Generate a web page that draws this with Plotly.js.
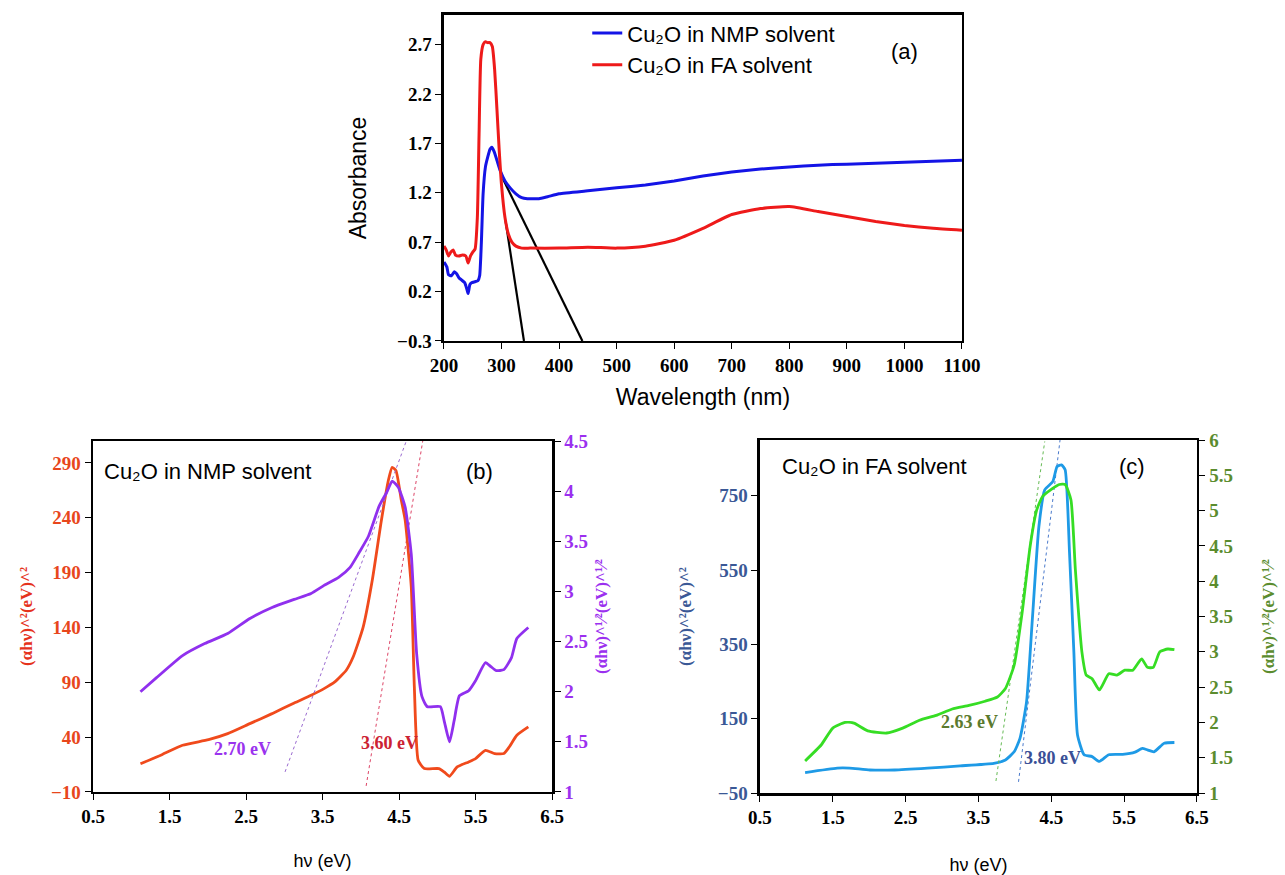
<!DOCTYPE html>
<html>
<head>
<meta charset="utf-8">
<script src="https://cdn.plot.ly/plotly-3.0.1.min.js"></script>
<style>html,body{margin:0;padding:0;background:#fff;}#chart{width:1285px;height:875px;}</style>
</head>
<body>
<div id="chart"></div>
<script>
// ---------- Panel (a): absorbance spectra ----------
const nmpWavelength = [200,205,208,213,218,222,226,230,236,240,242,245,248,254,259,262,265,268,272,276,280,283,287,292,298,306,315,325,335,345,355,365,380,400,450,500,550,600,650,700,750,800,850,900,950,1000,1050,1100];
const nmpAbsorbance = [0.50,0.45,0.37,0.36,0.40,0.38,0.34,0.32,0.29,0.22,0.18,0.27,0.29,0.30,0.31,0.36,0.70,1.19,1.46,1.56,1.64,1.66,1.62,1.53,1.42,1.32,1.25,1.19,1.15,1.14,1.14,1.14,1.16,1.19,1.22,1.25,1.28,1.32,1.37,1.41,1.44,1.46,1.48,1.49,1.50,1.51,1.52,1.53];
const faWavelength = [200,204,208,212,216,220,226,232,238,242,246,250,254,258,261,264,268,272,276,280,284,288,292,296,300,306,312,318,325,335,350,400,450,500,550,600,650,700,750,800,850,900,950,1000,1050,1100];
const faAbsorbance = [0.66,0.62,0.56,0.60,0.62,0.57,0.56,0.57,0.56,0.49,0.56,0.60,0.63,0.95,1.80,2.55,2.70,2.73,2.72,2.72,2.68,2.45,2.05,1.63,1.28,0.95,0.78,0.70,0.66,0.64,0.64,0.64,0.65,0.64,0.66,0.72,0.84,0.98,1.04,1.06,1.01,0.96,0.91,0.87,0.84,0.82];
const tangentA1_x = [307, 339];
const tangentA1_y = [0.915, -0.3];
const tangentA2_x = [302.6, 440.5];
const tangentA2_y = [1.34, -0.3];

// ---------- Panel (b): Cu2O in NMP ----------
const nmpSqX = [1.12,1.40,1.67,2.01,2.26,2.55,2.84,3.13,3.35,3.52,3.66,3.81,3.90,4.03,4.15,4.27,4.36,4.41,4.46,4.53,4.58,4.66,4.70,4.75,4.83,5.02,5.09,5.16,5.26,5.41,5.50,5.63,5.75,5.87,5.94,6.04,6.19];
const nmpSqY = [15.8,24,32.6,37.7,43.2,52.3,61.4,71.2,78.1,84.2,90.3,101,113,140,183,238,274,286,283,256,238,177,86,19,11.3,11.3,8.2,4.3,12.8,17.4,20.4,28,25,25,31,41.7,49.3];
const nmpRtX = [1.12,1.33,1.67,1.96,2.26,2.55,2.84,3.13,3.35,3.52,3.71,3.86,3.98,4.10,4.24,4.34,4.41,4.49,4.58,4.66,4.73,4.80,4.87,5.04,5.09,5.16,5.22,5.29,5.41,5.50,5.63,5.70,5.77,5.87,5.97,6.04,6.19];
const nmpRtY = [2.0,2.14,2.36,2.48,2.58,2.73,2.84,2.92,2.98,3.06,3.14,3.24,3.39,3.55,3.85,3.99,4.10,4.04,3.84,3.37,2.38,1.95,1.85,1.85,1.71,1.50,1.71,1.96,2.01,2.11,2.29,2.25,2.21,2.22,2.34,2.53,2.64];
const tangentB_rt_x = [3.01, 4.59];
const tangentB_rt_y = [1.20, 4.49];
const tangentB_sq_x = [4.07, 4.81];
const tangentB_sq_y = [-4.5, 310];

// ---------- Panel (c): Cu2O in FA ----------
const faSqX = [1.12,1.56,1.73,2.01,2.35,2.80,3.25,3.71,3.87,3.99,4.07,4.16,4.24,4.33,4.41,4.52,4.58,4.64,4.69,4.75,4.81,4.86,4.95,5.06,5.16,5.29,5.48,5.65,5.75,5.82,5.91,6.05,6.19];
const faSqY = [5,17,17,12,12,17,23,30,39,61,97,195,418,668,766,788,829,833,820,597,329,106,53,48,35,53,54,60,70,66,61,84,86];
const faRtX = [1.12,1.34,1.50,1.67,1.79,1.98,2.24,2.46,2.69,2.92,3.14,3.37,3.59,3.76,3.87,3.99,4.10,4.21,4.30,4.38,4.50,4.61,4.69,4.77,4.83,4.92,4.98,5.06,5.16,5.29,5.40,5.51,5.62,5.74,5.82,5.90,5.99,6.10,6.19];
const faRtY = [1.455,1.68,1.92,2.0,1.99,1.88,1.85,1.92,2.03,2.10,2.19,2.24,2.30,2.36,2.48,2.81,3.56,4.50,5.01,5.20,5.30,5.37,5.37,5.15,4.17,3.0,2.67,2.62,2.46,2.69,2.67,2.74,2.74,2.90,2.78,2.78,3.0,3.04,3.03];
const tangentC_rt_x = [3.74, 4.41];
const tangentC_rt_y = [1.17, 5.98];
const tangentC_sq_x = [4.05, 4.62];
const tangentC_sq_y = [-20, 900];

// labels
const legendNames = ['Cu₂O in NMP solvent', 'Cu₂O in FA solvent'];
const gapLabelsB = ['2.70 eV', '3.60 eV'];
const gapLabelsC = ['2.63 eV', '3.80 eV'];
const sqTitle = '(αhν)^²(eV)^²';
const rtTitle = '(αhν)^¹⁄²(eV)^¹⁄²';

const SERIF = 'Liberation Serif, Times New Roman, serif';
const SANS = 'Liberation Sans, Arial, sans-serif';

const traces = [
  {x: tangentA1_x, y: tangentA1_y, xaxis:'x', yaxis:'y', mode:'lines', line:{color:'#000', width:2.2}, showlegend:false, hoverinfo:'skip'},
  {x: tangentA2_x, y: tangentA2_y, xaxis:'x', yaxis:'y', mode:'lines', line:{color:'#000', width:2.2}, showlegend:false, hoverinfo:'skip'},
  {x: nmpWavelength, y: nmpAbsorbance, xaxis:'x', yaxis:'y', mode:'lines', name: legendNames[0], line:{color:'#1414e6', width:3, shape:'spline', smoothing:0.5}},
  {x: faWavelength, y: faAbsorbance, xaxis:'x', yaxis:'y', mode:'lines', name: legendNames[1], line:{color:'#ee1a1a', width:3, shape:'spline', smoothing:0.5}},

  {x: tangentB_rt_x, y: tangentB_rt_y, xaxis:'x2', yaxis:'y3', mode:'lines', line:{color:'#9a6ad0', width:1, dash:'dot'}, showlegend:false, hoverinfo:'skip'},
  {x: tangentB_sq_x, y: tangentB_sq_y, xaxis:'x2', yaxis:'y2', mode:'lines', line:{color:'#dd4466', width:1, dash:'dot'}, showlegend:false, hoverinfo:'skip'},
  {x: nmpSqX, y: nmpSqY, xaxis:'x2', yaxis:'y2', mode:'lines', line:{color:'#f04a1c', width:2.8, shape:'spline', smoothing:0.5}, showlegend:false},
  {x: nmpRtX, y: nmpRtY, xaxis:'x2', yaxis:'y3', mode:'lines', line:{color:'#9030ee', width:2.8, shape:'spline', smoothing:0.5}, showlegend:false},

  {x: tangentC_rt_x, y: tangentC_rt_y, xaxis:'x3', yaxis:'y5', mode:'lines', line:{color:'#66bb55', width:1, dash:'dot'}, showlegend:false, hoverinfo:'skip'},
  {x: tangentC_sq_x, y: tangentC_sq_y, xaxis:'x3', yaxis:'y4', mode:'lines', line:{color:'#4a7acc', width:1, dash:'dot'}, showlegend:false, hoverinfo:'skip'},
  {x: faSqX, y: faSqY, xaxis:'x3', yaxis:'y4', mode:'lines', line:{color:'#1e9ae6', width:2.8, shape:'spline', smoothing:0.5}, showlegend:false},
  {x: faRtX, y: faRtY, xaxis:'x3', yaxis:'y5', mode:'lines', line:{color:'#36dd24', width:2.8, shape:'spline', smoothing:0.5}, showlegend:false}
];

function axisBase(extra) {
  return Object.assign({
    showgrid:false, zeroline:false, showline:true, linecolor:'#000', linewidth:2.5,
    ticks:'outside', ticklen:6, tickwidth:1, tickcolor:'#000', tickmode:'linear',
    tickfont:{family:SERIF, size:19, color:'#000', weight:'bold'}, fixedrange:true
  }, extra);
}

const layout = {
  width:1285, height:875,
  margin:{l:0, r:0, t:0, b:0},
  paper_bgcolor:'#fff', plot_bgcolor:'#fff',
  showlegend:true,
  legend:{x:0.457, y:0.986, xanchor:'left', yanchor:'top', bgcolor:'rgba(0,0,0,0)',
          font:{family:SANS, size:22, color:'#000'}, tracegroupgap:0, itemwidth:30},
  xaxis: axisBase({domain:[0.3455,0.7486], anchor:'y', range:[200,1100], tick0:200, dtick:100, mirror:true,
    title:{text:'Wavelength (nm)', font:{family:SANS, size:23, color:'#000'}, standoff:14}}),
  yaxis: axisBase({domain:[0.6103,0.9829], anchor:'x', range:[-0.3,3.0], tick0:-0.3, dtick:0.5, mirror:true,
    title:{text:'Absorbance', font:{family:SANS, size:23, color:'#000'}, standoff:24}}),

  xaxis2: axisBase({domain:[0.0724,0.4296], anchor:'y2', range:[0.5,6.5], tick0:0.5, dtick:1, mirror:true,
    title:{text:'hν (eV)', font:{family:SANS, size:18, color:'#000'}, standoff:28}}),
  yaxis2: axisBase({domain:[0.0949,0.496], anchor:'x2', range:[-10,310], tick0:-10, dtick:50,
    tickfont:{family:SERIF, size:19, color:'#e8461c', weight:'bold'},
    title:{text:sqTitle, font:{family:SERIF, size:17, color:'#e5321c', weight:'bold'}, standoff:14}}),
  yaxis3: axisBase({overlaying:'y2', side:'right', anchor:'x2', range:[1,4.5], tick0:1, dtick:0.5,
    tickfont:{family:SERIF, size:19, color:'#9b30ef', weight:'bold'},
    title:{text:rtTitle, font:{family:SERIF, size:17, color:'#9b30ef', weight:'bold'}, standoff:8}}),

  xaxis3: axisBase({domain:[0.5914,0.9315], anchor:'y4', range:[0.5,6.5], tick0:0.5, dtick:1, mirror:true,
    title:{text:'hν (eV)', font:{family:SANS, size:18, color:'#000'}, standoff:36}}),
  yaxis4: axisBase({domain:[0.0937,0.4971], anchor:'x3', range:[-50,900], tick0:-50, dtick:200,
    tickfont:{family:SERIF, size:19, color:'#3a5896', weight:'bold'},
    title:{text:sqTitle, font:{family:SERIF, size:17, color:'#3a5896', weight:'bold'}, standoff:22}}),
  yaxis5: axisBase({overlaying:'y4', side:'right', anchor:'x3', range:[1,6], tick0:1, dtick:0.5,
    tickfont:{family:SERIF, size:19, color:'#5b8c2e', weight:'bold'},
    title:{text:rtTitle, font:{family:SERIF, size:17, color:'#5b8c2e', weight:'bold'}, standoff:30}}),

  annotations:[
    {xref:'x', yref:'y', x:1001, y:2.63, text:'(a)', showarrow:false, xanchor:'center', yanchor:'middle', font:{family:SANS, size:22, color:'#000'}},
    {xref:'x2', yref:'y2', x:0.62, y:282, text:'Cu₂O in NMP solvent', showarrow:false, xanchor:'left', yanchor:'middle', font:{family:SANS, size:22, color:'#000'}},
    {xref:'x2', yref:'y2', x:5.55, y:282, text:'(b)', showarrow:false, xanchor:'center', yanchor:'middle', font:{family:SANS, size:22, color:'#000'}},
    {xref:'x2', yref:'y2', x:2.45, y:29, text:gapLabelsB[0], showarrow:false, xanchor:'center', yanchor:'middle', font:{family:SERIF, size:18, color:'#9a33ee', weight:'bold'}},
    {xref:'x2', yref:'y2', x:4.37, y:35, text:gapLabelsB[1], showarrow:false, xanchor:'center', yanchor:'middle', font:{family:SERIF, size:18, color:'#cc2233', weight:'bold'}},
    {xref:'x3', yref:'y4', x:0.77, y:829, text:'Cu₂O in FA solvent', showarrow:false, xanchor:'left', yanchor:'middle', font:{family:SANS, size:22, color:'#000'}},
    {xref:'x3', yref:'y4', x:5.61, y:829, text:'(c)', showarrow:false, xanchor:'center', yanchor:'middle', font:{family:SANS, size:22, color:'#000'}},
    {xref:'x3', yref:'y4', x:3.38, y:142, text:gapLabelsC[0], showarrow:false, xanchor:'center', yanchor:'middle', font:{family:SERIF, size:18, color:'#5b7a2e', weight:'bold'}},
    {xref:'x3', yref:'y4', x:4.52, y:44, text:gapLabelsC[1], showarrow:false, xanchor:'center', yanchor:'middle', font:{family:SERIF, size:18, color:'#3a4f96', weight:'bold'}}
  ]
};

Plotly.newPlot('chart', traces, layout, {displayModeBar:false, staticPlot:true});
</script>
</body>
</html>
